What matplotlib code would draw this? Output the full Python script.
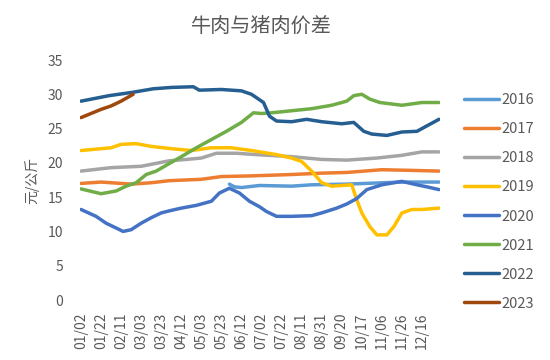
import matplotlib
matplotlib.use("Agg")
import matplotlib.pyplot as plt

plt.rcParams['font.family'] = ['Noto Sans CJK SC', 'DejaVu Sans']

# x positions are trading-day indexes within the year, labelled every 20 points
tick_pos = list(range(0, 341, 20))
tick_labels = ["01/02", "01/22", "02/11", "03/03", "03/23", "04/12", "05/03",
               "05/23", "06/12", "07/02", "07/22", "08/11", "08/31", "09/20",
               "10/17", "11/06", "11/26", "12/16"]

years = ["2016", "2017", "2018", "2019", "2020", "2021", "2022", "2023"]
colors = ["#5B9BD5", "#ED7D31", "#A5A5A5", "#FFC000", "#4472C4",
          "#70AD47", "#255E91", "#9E480E"]

x_2016 = [148, 153, 160, 178, 210, 230, 265, 320, 357]
y_2016 = [16.9, 16.5, 16.4, 16.7, 16.6, 16.8, 16.9, 17.2, 17.2]

x_2017 = [0, 20, 50, 70, 88, 120, 140, 170, 210, 240, 265, 300, 330, 357]
y_2017 = [17.0, 17.2, 16.9, 17.1, 17.4, 17.6, 18.0, 18.1, 18.3, 18.5, 18.6, 19.0, 18.9, 18.8]

x_2018 = [0, 30, 60, 88, 105, 120, 135, 155, 175, 210, 240, 265, 295, 320, 340, 357]
y_2018 = [18.8, 19.3, 19.5, 20.3, 20.5, 20.7, 21.4, 21.4, 21.2, 20.9, 20.5, 20.4, 20.7, 21.1, 21.6, 21.6]

x_2019 = [0, 30, 40, 55, 70, 88, 95, 110, 130, 150, 170, 195, 210, 220, 230, 240,
          250, 260, 270, 275, 280, 288, 295, 305, 312, 320, 330, 340, 357]
y_2019 = [21.8, 22.2, 22.7, 22.8, 22.4, 22.1, 22.0, 21.8, 22.2, 22.2, 21.8, 21.2, 20.7,
          20.2, 18.8, 17.1, 16.6, 16.7, 16.8, 14.6, 12.7, 10.7, 9.5, 9.5, 10.7, 12.7,
          13.2, 13.2, 13.4]

x_2020 = [0, 15, 25, 35, 42, 50, 60, 70, 80, 88, 100, 115, 130, 138, 148, 158,
          168, 178, 185, 195, 210, 230, 240, 255, 265, 275, 285, 300, 320, 335, 345, 357]
y_2020 = [13.2, 12.2, 11.2, 10.5, 10.0, 10.25, 11.2, 12.0, 12.7, 13.0, 13.4, 13.8, 14.4,
          15.6, 16.3, 15.6, 14.4, 13.6, 12.9, 12.2, 12.2, 12.3, 12.7, 13.4, 14.0, 14.8,
          16.1, 16.8, 17.3, 16.8, 16.5, 16.1]

x_2021 = [0, 20, 35, 45, 55, 65, 75, 88, 100, 115, 130, 145, 160, 172, 180, 190,
          210, 230, 250, 265, 272, 280, 288, 298, 320, 340, 357]
y_2021 = [16.2, 15.5, 15.9, 16.6, 17.1, 18.3, 18.8, 19.9, 20.9, 22.2, 23.4, 24.6, 25.9,
          27.3, 27.2, 27.3, 27.6, 27.9, 28.4, 29.0, 29.8, 30.0, 29.3, 28.8, 28.4, 28.8, 28.8]

x_2022 = [0, 28, 52, 72, 90, 112, 118, 140, 160, 170, 178, 182, 188, 195, 210, 225,
          240, 260, 272, 282, 290, 305, 320, 335, 345, 357]
y_2022 = [29.0, 29.8, 30.3, 30.8, 31.0, 31.1, 30.6, 30.7, 30.5, 30.0, 29.2, 28.8, 26.8,
          26.1, 26.0, 26.35, 26.0, 25.7, 25.9, 24.6, 24.2, 24.0, 24.5, 24.6, 25.4, 26.35]

x_2023 = [0, 20, 30, 40, 52]
y_2023 = [26.6, 27.8, 28.3, 29.0, 30.0]

series_x = [x_2016, x_2017, x_2018, x_2019, x_2020, x_2021, x_2022, x_2023]
series_y = [y_2016, y_2017, y_2018, y_2019, y_2020, y_2021, y_2022, y_2023]

fig = plt.figure(figsize=(5.5, 3.6), dpi=100)
ax = fig.add_axes([80 / 550, 60 / 360, 360 / 550, 240 / 360])

for name, xs, ys, c in zip(years, series_x, series_y, colors):
    ax.plot(xs, ys, color=c, linewidth=2.5, label=name, solid_capstyle='round')

ax.set_xlim(-1, 358)
ax.set_ylim(0, 35)
ax.set_yticks(range(0, 36, 5))
ax.set_xticks(tick_pos)
ax.set_xticklabels(tick_labels, rotation=90)
ax.tick_params(axis='both', length=0, labelsize=10, colors='#595959')
ax.tick_params(axis='x', pad=9)
ax.tick_params(axis='y', pad=12)
for s in ax.spines.values():
    s.set_visible(False)

ax.set_ylabel("元/公斤", color='#595959', fontsize=10, labelpad=6)
fig.suptitle("牛肉与猪肉价差", x=0.475, y=0.955, fontsize=14.5, color='#595959')

leg = ax.legend(loc='upper left', bbox_to_anchor=(1.05, 0.885), frameon=False,
                fontsize=10.5, handlelength=2.4, handletextpad=0.15,
                labelspacing=1.03, borderaxespad=0)
for t in leg.get_texts():
    t.set_color('#595959')

fig.savefig("out.png", dpi=100)
